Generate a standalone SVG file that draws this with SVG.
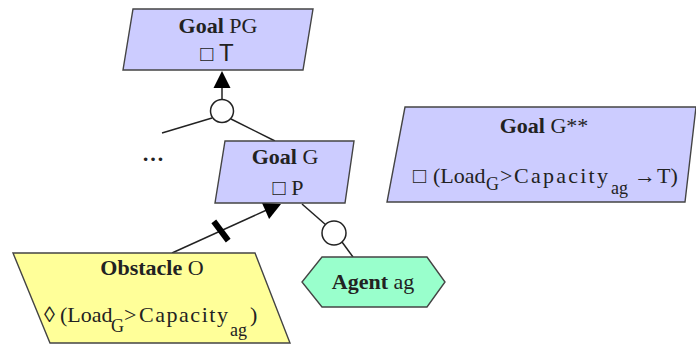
<svg xmlns="http://www.w3.org/2000/svg" width="696" height="345" viewBox="0 0 696 345">
  <style>
    .goal { fill: #ccccff; stroke: #444; stroke-width: 1.4; }
    .obst { fill: #ffff99; stroke: #444; stroke-width: 1.4; }
    .agent { fill: #99ffcc; stroke: #444; stroke-width: 1.4; }
    .link { fill: none; stroke: #222; stroke-width: 1.5; }
    .ref { fill: #fff; stroke: #222; stroke-width: 1.5; }
    .head { fill: #000; stroke: none; }
    text { font-family: "Liberation Serif", "Times New Roman", serif; font-size: 22px; fill: #222; }
    .b { font-weight: bold; }
    .sub { font-size: 18px; }
    .sans { font-family: "Liberation Sans", Arial, sans-serif; font-size: 24px; }
  </style>

  <g id="connectors">
    <!-- refinement of PG into G -->
    <line class="link" x1="222" y1="100" x2="222" y2="86"/>
    <polygon class="head" points="222,71 213.5,88 230.5,88"/>
    <line class="link" x1="212" y1="118" x2="162" y2="133"/>
    <line class="link" x1="231" y1="119" x2="275" y2="141"/>
    <circle class="ref" cx="222" cy="111" r="11.5"/>
    <!-- obstruction of G by O -->
    <line class="link" x1="172" y1="253" x2="270" y2="208.5"/>
    <polygon class="head" points="281,204 269.1,219.1 261.9,202.7"/>
    <line x1="213.8" y1="221.4" x2="228.2" y2="240.6" stroke="#000" stroke-width="6"/>
    <!-- assignment of G to agent -->
    <line class="link" x1="302" y1="204" x2="326" y2="225"/>
    <line class="link" x1="342" y1="242" x2="353" y2="257"/>
    <circle class="ref" cx="334" cy="233" r="12"/>
  </g>

  <g id="goal-PG">
    <polygon class="goal" points="133,9 313,9 303,70 123,70"/>
    <text x="218" y="33" text-anchor="middle"><tspan class="b">Goal</tspan> PG</text>
    <text x="217" y="61" text-anchor="middle">□ <tspan class="sans">T</tspan></text>
  </g>

  <text x="153" y="161" text-anchor="middle" class="b">…</text>

  <g id="goal-G">
    <polygon class="goal" points="225,141 354,141 345,203 215,203"/>
    <text x="285" y="164" text-anchor="middle"><tspan class="b">Goal</tspan> G</text>
    <text x="288" y="195" text-anchor="middle">□ P</text>
  </g>

  <g id="goal-G2">
    <polygon class="goal" points="405,107 696,107 685,202 387,202"/>
    <text x="544" y="133" text-anchor="middle"><tspan class="b">Goal</tspan> G**</text>
    <text y="183"><tspan x="413">□</tspan><tspan x="433">(Load</tspan><tspan x="486" dy="7" class="sub">G</tspan><tspan x="500" dy="-7">&gt;</tspan><tspan x="514" textLength="94" lengthAdjust="spacing">Capacity</tspan><tspan x="611" dy="11" class="sub">ag</tspan><tspan x="634" dy="-11">→</tspan><tspan x="657">T)</tspan></text>
  </g>

  <g id="obstacle-O">
    <polygon class="obst" points="13,253 255,253 290,343 50,343"/>
    <text x="152" y="275" text-anchor="middle"><tspan class="b">Obstacle</tspan> O</text>
    <text y="322"><tspan x="44">◊</tspan><tspan x="60">(Load</tspan><tspan x="111" dy="10" class="sub">G</tspan><tspan x="124" dy="-10">&gt;</tspan><tspan x="139" textLength="89" lengthAdjust="spacing">Capacity</tspan><tspan x="230" dy="14" class="sub">ag</tspan><tspan x="250" dy="-14">)</tspan></text>
  </g>

  <g id="agent-ag">
    <polygon class="agent" points="322,257 427,257 445,282 427,307 322,307 302,282"/>
    <text x="373" y="289" text-anchor="middle"><tspan class="b">Agent</tspan> ag</text>
  </g>
</svg>
